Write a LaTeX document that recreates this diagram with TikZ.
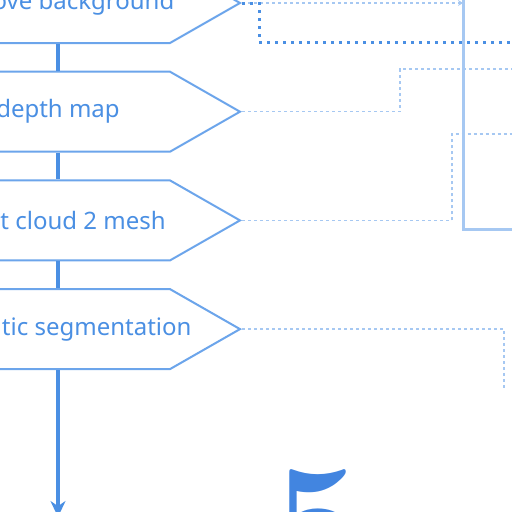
\documentclass[tikz,border=0pt]{standalone}
\usepackage{fontspec}
\newfontfamily\labelfont{Noto Sans}
\usetikzlibrary{arrows.meta,shapes.symbols}
\definecolor{flowblue}{HTML}{4A8FE3}
\definecolor{edgeblue}{HTML}{6CA5EB}
\definecolor{paleblue}{HTML}{A6C8F2}
\definecolor{digitblue}{HTML}{4285E0}
\newcommand{\stagelabel}[1]{\makebox[0pt]{#1}}

\begin{document}
\begin{tikzpicture}[x=1pt,y=-1pt,node distance=108.7pt,
            >={Stealth[length=16pt,width=15pt]}]
        \tikzstyle{stage}=[signal,signal to=east,signal pointer angle=59.5,
            draw=edgeblue,line width=2pt,fill=white,inner sep=0pt,
            minimum width=294pt,minimum height=80pt,text=flowblue,
            font=\labelfont\fontsize{24}{28}\selectfont]
        \tikzstyle{flow}=[draw=flowblue,line width=4pt]
        \tikzstyle{link}=[draw=paleblue,line width=1.5pt,dash pattern=on 3pt off 3pt]
        \tikzstyle{feed}=[draw=flowblue,line width=3pt,dash pattern=on 3pt off 5pt]

        \path[use as bounding box,clip] (0,0) rectangle (512,512);

        \node[stage] (B1) at (58,3) {\stagelabel{Remove background}};
        \node[stage] (B2) [below of=B1] {\stagelabel{depth map}};
        \node[stage] (B3) [below of=B2] {\stagelabel{Point cloud 2 mesh}};
        \node[stage] (B4) [below of=B3] {\stagelabel{Semantic segmentation}};

        \node[draw=paleblue,line width=3pt,outer sep=0pt,anchor=south west,
            minimum width=200pt,minimum height=300pt] (panel) at (463,229) {};

        \node[anchor=base,text=digitblue,font=\fontsize{160}{160}\selectfont\bfseries]
            (num) at (318,574) {5};

        % steps
        \draw[flow] (B1) -- (B2);
        \draw[flow] (B2) -- (B3);
        \draw[flow] (B3) -- (B4);
        \coordinate (end) at (58,517);
        \draw[flow,->] (B4) -- (end);

        % side links
        \coordinate (bend1) at (259,42);
        \coordinate (out1) at (530,42);
        \coordinate (bend2) at (400,69);
        \coordinate (out2) at (530,69);
        \coordinate (bend3) at (452,134);
        \coordinate (out3) at (530,134);
        \coordinate (bend4) at (504,388);

        \draw[link,-{Stealth[length=5pt,width=6pt]}] (B1.east) -- (B1.east -| panel.west);
        \draw[feed] (B1.east) -| (bend1) -- (out1);
        \draw[link] (B2.east) -| (bend2) -- (out2);
        \draw[link] (B3.east) -| (bend3) -- (out3);
        \draw[link] (B4.east) -| (bend4);
\end{tikzpicture}
\end{document}
